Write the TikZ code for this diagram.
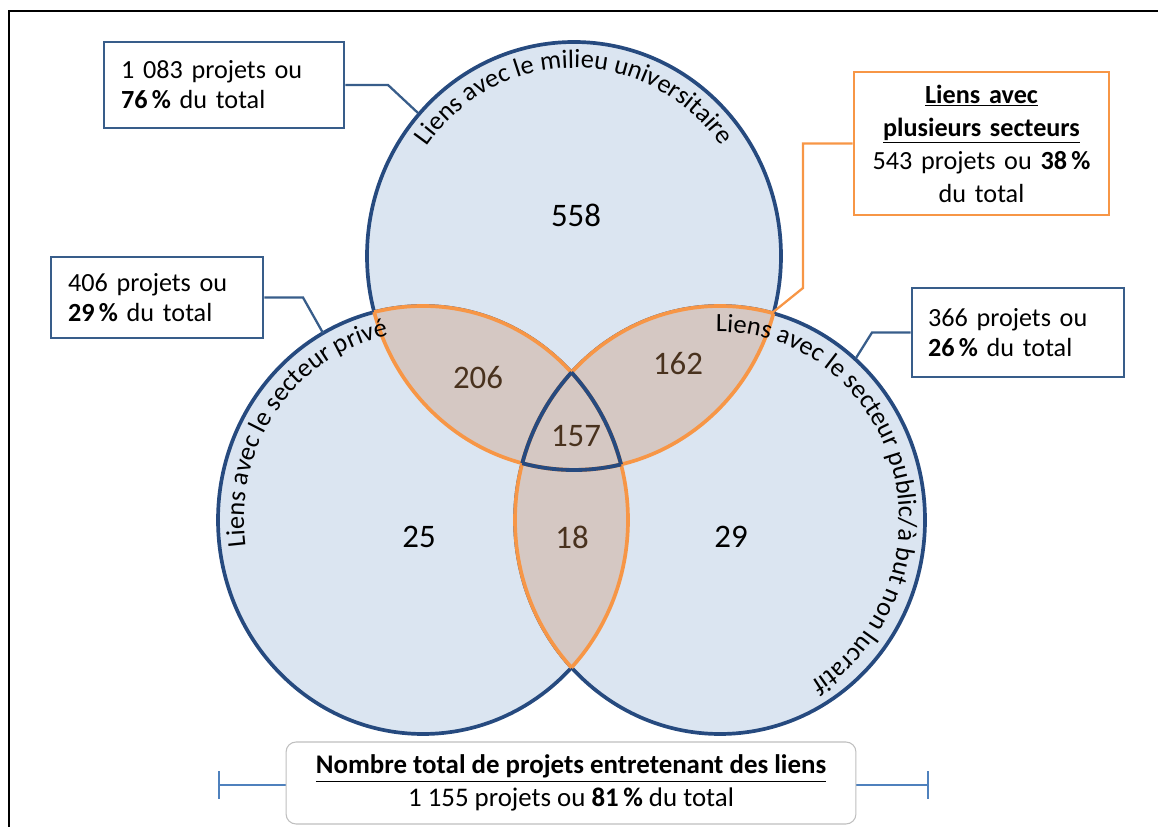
\documentclass[tikz,border=0pt]{standalone}
\usepackage{fontspec}
\setmainfont{Carlito}
\usetikzlibrary{decorations.text}
\definecolor{cfill}{RGB}{219,229,241}
\definecolor{cline}{RGB}{38,74,127}
\definecolor{bline}{RGB}{56,93,138}
\definecolor{orng}{RGB}{247,150,70}
\definecolor{lensf}{RGB}{213,200,195}
\definecolor{numbr}{RGB}{73,50,30}
\definecolor{barc}{RGB}{79,129,189}
\definecolor{grayb}{RGB}{191,191,191}
\def\Tell{(574,571) ellipse [x radius=207, y radius=214]}
\def\Lell{(423,307) ellipse [x radius=205, y radius=214]}
\def\Rell{(720,307) ellipse [x radius=205, y radius=214]}
\begin{document}
\begin{tikzpicture}[x=0.02cm,y=0.02cm,
  circ/.style={fill=cfill, draw=cline, line width=2.1pt},
  lensline/.style={draw=orng, line width=2.1pt},
  triline/.style={draw=cline, line width=2.2pt},
  infobox/.style={draw=bline, line width=1.6pt, fill=white, font=\fontsize{14.9}{17.2}\selectfont, inner ysep=0pt},
  conn/.style={draw=bline, line width=1.3pt},
  oconn/.style={draw=orng, line width=1.3pt},
  bignum/.style={font=\fontsize{18.7}{20}\selectfont},
  lensnum/.style={font=\fontsize{18.7}{20}\selectfont, text=numbr},
  lbl/.style={decorate, decoration={text along path, text align=center, text={|\fontsize{15}{17}\selectfont|#1}}}
]
\useasboundingbox (0,0) rectangle (1158,827);
% frame
\draw[line width=1.2pt] (9,0) -- (9,816) -- (1158,816);
% circles
\path[circ] \Tell;
\path[circ] \Lell;
\path[circ] \Rell;
% lens fills
\begin{scope}\clip \Tell; \fill[lensf] \Lell; \end{scope}
\begin{scope}\clip \Tell; \fill[lensf] \Rell; \end{scope}
\begin{scope}\clip \Lell; \fill[lensf] \Rell; \end{scope}
% lens outlines
\begin{scope}\clip \Tell; \path[lensline] \Lell; \path[lensline] \Rell; \end{scope}
\begin{scope}\clip \Lell; \path[lensline] \Tell; \path[lensline] \Rell; \end{scope}
\begin{scope}\clip \Rell; \path[lensline] \Tell; \path[lensline] \Lell; \end{scope}
% triple region outline
\begin{scope}\clip \Tell; \clip \Lell; \path[triline] \Rell; \end{scope}
\begin{scope}\clip \Tell; \clip \Rell; \path[triline] \Lell; \end{scope}
\begin{scope}\clip \Lell; \clip \Rell; \path[triline] \Tell; \end{scope}
% circle labels
\path[lbl={Liens avec le milieu universitaire}] (574,571) ++(170:181 and 188) arc[start angle=170, end angle=10, x radius=181, y radius=188];
\path[lbl={Liens avec le secteur privé}] (423,307) ++(215:179 and 188) arc[start angle=215, end angle=73, x radius=179, y radius=188];
\path[lbl={Liens avec le secteur public/à but non lucratif}] (720,307) ++(106:179 and 188) arc[start angle=106, end angle=-74, x radius=179, y radius=188];
% numbers
\node[bignum] (n558) at (576,612) {558};
\node[lensnum] (n206) at (478,449) {206};
\node[lensnum] (n162) at (678,463) {162};
\node[lensnum] (n157) at (576,391) {157};
\node[bignum] (n25) at (419,290) {25};
\node[lensnum] (n18) at (572,290) {18};
\node[bignum] (n29) at (731,290) {29};
% boxes
\node[infobox, minimum width=4.8cm, minimum height=1.72cm, text width=4.12cm, inner xsep=0.34cm, align=left] (b1) at (224,742) {1 083 projets ou\\\textbf{76\,\%} du total};
\node[infobox, draw=orng, minimum width=5.1cm, minimum height=2.86cm, text width=4.9cm, inner xsep=0.1cm, align=center, font=\fontsize{14.9}{18.8}\selectfont] (b2) at (981.5,683.5) {\underline{\textbf{Liens avec}}\\\underline{\textbf{plusieurs secteurs}}\\543 projets ou \textbf{38\,\%}\\du total};
\node[infobox, minimum width=4.24cm, minimum height=1.62cm, text width=3.56cm, inner xsep=0.34cm, align=left] (b3) at (157,529.5) {406 projets ou\\\textbf{29\,\%} du total};
\node[infobox, minimum width=4.24cm, minimum height=1.78cm, text width=3.6cm, inner xsep=0.32cm, align=left] (b4) at (1018,494.5) {366 projets ou\\\textbf{26\,\%} du total};
% connector anchor points on circles
\coordinate (c1) at (418,714);
\coordinate (c2) at (772,514);
\coordinate (c3) at (323,494);
\coordinate (c4) at (856,469);
\draw[conn] (b1.east) -- (388,742) -- (c1);
\draw[oconn] (b2.west) -- (803,683.5) -- (803,539) -- (c2);
\draw[conn] (b3.east) -- (303,529.5) -- (c3);
\draw[conn] (b4.west) -- (872,494.5) -- (c4);
% bottom bar
\coordinate (barL) at (219,42);
\coordinate (barR) at (928,42);
\draw[barc, line width=1.5pt] (barL) -- (barR);
\draw[barc, line width=1.5pt] ([yshift=0.28cm]barL) -- ([yshift=-0.28cm]barL);
\draw[barc, line width=1.5pt] ([yshift=0.28cm]barR) -- ([yshift=-0.28cm]barR);
\node[draw=grayb, line width=0.6pt, fill=white, rounded corners=0.2cm, minimum width=11.4cm, minimum height=1.64cm, align=center, font=\fontsize{15.3}{18.5}\selectfont] (total) at (571,44) {\underline{\textbf{Nombre total de projets entretenant des liens}}\\1 155 projets ou \textbf{81\,\%} du total};
\end{tikzpicture}
\end{document}
